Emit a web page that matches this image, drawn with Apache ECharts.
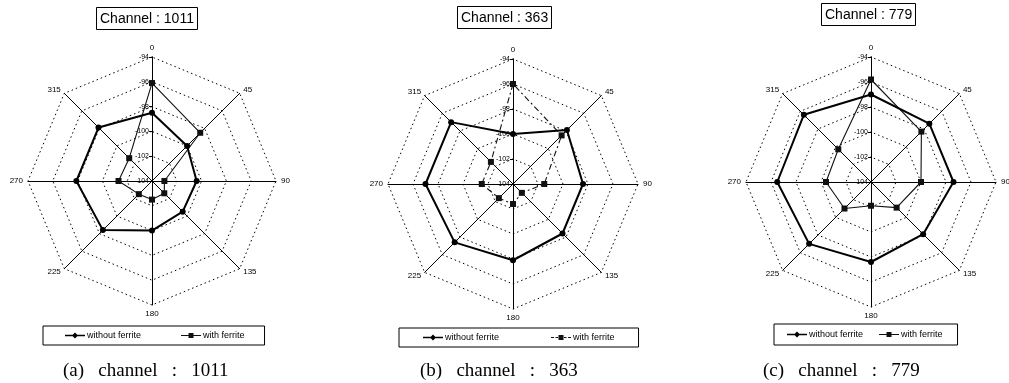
<!DOCTYPE html>
<html>
<head>
<meta charset="utf-8">
<script src="https://cdn.jsdelivr.net/npm/echarts@6/dist/echarts.min.js"></script>
<style>
  html, body { margin: 0; padding: 0; background: #fff; }
  #chart { width: 1009px; height: 383px; }
</style>
</head>
<body>
<div id="chart"></div>
<script>
// Antenna bearing (degrees) for each spoke, clockwise from the top
const angleLabels = ['0', '45', '90', '135', '180', '225', '270', '315'];
// Radial scale (dBm): centre to outer ring
const ringMin = -104;
const ringMax = -94;
const ringStep = 2;

// Received level per bearing, channel 1011
const ch1011Without = [-98.5, -100.0, -100.4, -100.5, -100.0, -98.4, -97.9, -97.9];
const ch1011With    = [-96.1, -98.5, -103.0, -102.6, -102.5, -102.5, -101.3, -101.4];
// Channel 363
const ch363Without  = [-100.0, -97.9, -98.4, -98.4, -97.9, -97.4, -97.0, -97.0];
const ch363With     = [-96.0, -98.5, -101.5, -103.0, -102.4, -102.4, -101.5, -101.5];
// Channel 779
const ch779Without  = [-97.0, -97.4, -97.4, -98.1, -97.6, -97.0, -96.5, -96.4];
const ch779With     = [-95.8, -98.3, -100.0, -101.1, -102.1, -101.0, -100.4, -100.3];

const panelTitles = ['Channel : 1011', 'Channel : 363', 'Channel : 779'];
const panelCaptions = ['(a)   channel   :   1011', '(b)   channel   :   363', '(c)   channel   :   779'];
const seriesNames = ['without ferrite', 'with ferrite'];

const SANS = 'Liberation Sans, Arial, sans-serif';
const SERIF = 'Liberation Serif, Times New Roman, serif';

// Radar indicators run counter-clockwise, so list bearings in reverse after 0
const order = [0, 7, 6, 5, 4, 3, 2, 1];
const reorder = arr => order.map(i => arr[i]);

const panels = [
  { center: [152, 181], radius: 124, without: ch1011Without, withF: ch1011With, dashed: false,
    title: { left: 96, top: 7 }, caption: { left: 58 },
    legend: { left: 43, top: 326, padding: [5, 20, 5, 22], gap: 40 } },
  { center: [513, 184], radius: 125, without: ch363Without, withF: ch363With, dashed: true,
    title: { left: 457, top: 6 }, caption: { left: 415 },
    legend: { left: 399, top: 328, padding: [5, 24, 5, 24], gap: 52 } },
  { center: [871, 182], radius: 125, without: ch779Without, withF: ch779With, dashed: false,
    title: { left: 821, top: 3 }, caption: { left: 758 },
    legend: { left: 774, top: 324, padding: [6, 15, 6, 13], gap: 16 } }
];

// Legend glyphs: a line with the series marker in the middle
const iconWithout = 'path://M0,2.3L20,2.3L20,3.7L0,3.7Z M10,0L13,3L10,6L7,3Z';
const iconWith = 'path://M0,2.5L20,2.5L20,3.5L0,3.5Z M7.5,0.5L12.5,0.5L12.5,5.5L7.5,5.5Z';
const iconWithDashed = 'path://M0,2.5L3,2.5L3,3.5L0,3.5Z M4.5,2.5L7,2.5L7,3.5L4.5,3.5Z M7.5,0.5L12.5,0.5L12.5,5.5L7.5,5.5Z M13,2.5L15.5,2.5L15.5,3.5L13,3.5Z M17,2.5L20,2.5L20,3.5L17,3.5Z';

const option = {
  backgroundColor: '#fff',
  animation: false,
  title: [],
  legend: [],
  radar: [],
  polar: [],
  angleAxis: [],
  radiusAxis: [],
  series: []
};

panels.forEach((p, k) => {
  option.title.push({
    text: panelTitles[k], left: p.title.left, top: p.title.top,
    borderWidth: 1, borderColor: '#000', padding: [5, 4, 4, 4],
    textStyle: { fontSize: 14, fontWeight: 'normal', color: '#000', fontFamily: SANS }
  });
  option.title.push({
    text: panelCaptions[k], left: p.caption.left, top: 357,
    textStyle: { fontSize: 19, fontWeight: 'normal', color: '#000', fontFamily: SERIF }
  });

  option.legend.push({
    left: p.legend.left, top: p.legend.top,
    orient: 'horizontal', selectedMode: false,
    borderWidth: 1, borderColor: '#000', borderRadius: 0,
    padding: p.legend.padding, itemGap: p.legend.gap,
    itemWidth: 20, itemHeight: 6,
    textStyle: { fontSize: 9, color: '#000', fontFamily: SANS, padding: [0, 0, 0, -3] },
    data: [
      { name: seriesNames[0], icon: iconWithout },
      { name: seriesNames[1], icon: p.dashed ? iconWithDashed : iconWith }
    ]
  });

  option.radar.push({
    center: p.center, radius: p.radius, startAngle: 90,
    shape: 'polygon', splitNumber: (ringMax - ringMin) / ringStep,
    indicator: order.map(i => ({ name: angleLabels[i], min: ringMin, max: ringMax })),
    nameGap: 5,
    axisName: { color: '#000', fontSize: 8, fontFamily: SANS },
    axisLine: { lineStyle: { color: '#000', width: 1 } },
    splitLine: { lineStyle: { color: '#000', width: 1, type: [1.5, 3] } },
    splitArea: { show: false },
    axisTick: { show: false },
    axisLabel: { show: false }
  });

  // Ring values printed along the 0 degree spoke
  option.polar.push({ center: p.center, radius: p.radius });
  option.angleAxis.push({
    polarIndex: k, type: 'value', startAngle: 90, min: 0, max: 360, show: false
  });
  option.radiusAxis.push({
    polarIndex: k, type: 'value', min: ringMin, max: ringMax, interval: ringStep,
    axisLine: { show: true, lineStyle: { color: '#000', width: 1 } },
    axisTick: { show: true, length: 3, inside: false, lineStyle: { color: '#000' } },
    splitLine: { show: false },
    axisLabel: { fontSize: 7, color: '#000', fontFamily: SANS, margin: 3 }
  });

  option.series.push({
    type: 'radar', radarIndex: k, z: 3,
    data: [
      {
        name: seriesNames[1], value: reorder(p.withF),
        symbol: 'rect', symbolSize: 6,
        itemStyle: { color: '#111' },
        lineStyle: { color: '#111', width: 1.1, type: p.dashed ? [6, 3, 2, 3] : 'solid' }
      },
      {
        name: seriesNames[0], value: reorder(p.without),
        symbol: 'circle', symbolSize: 6,
        itemStyle: { color: '#000' },
        lineStyle: { color: '#000', width: 2 }
      }
    ]
  });
});

const chart = echarts.init(document.getElementById('chart'), null, { renderer: 'canvas' });
chart.setOption(option);
</script>
</body>
</html>
